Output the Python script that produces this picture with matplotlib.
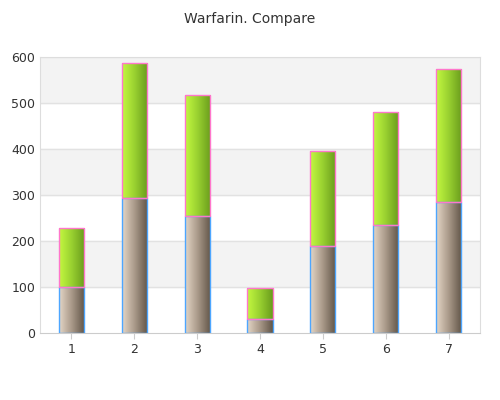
import matplotlib
matplotlib.use("Agg")
import matplotlib.pyplot as plt
import numpy as np
from matplotlib.colors import LinearSegmentedColormap

categories = ["1", "2", "3", "4", "5", "6", "7"]
bottom_vals = [100, 293, 255, 30, 190, 235, 285]
top_vals = [128, 294, 263, 67, 206, 245, 289]

fig = plt.figure(figsize=(5, 4), dpi=100)
ax = fig.add_axes([0.08, 0.1675, 0.88, 0.69])
x = np.arange(1, len(categories) + 1)
w = 0.4
ax.set_xlim(0.5, 7.5)
ax.set_ylim(0, 600)
for y0 in (100, 300, 500):
    ax.axhspan(y0, y0 + 100, color="#f3f3f3", zorder=0)
for y0 in range(100, 601, 100):
    ax.axhline(y0, color="#e2e2e2", lw=1, zorder=0.5)

cm_b = LinearSegmentedColormap.from_list("b", ["#e4d6c6", "#a89888", "#625648"])
cm_t = LinearSegmentedColormap.from_list("t", ["#c4f840", "#98d030", "#6a9c1c"])
grad = np.linspace(0, 1, 64).reshape(1, -1)

def gbar(xc, y0, h, cmap, ec):
    bar = ax.bar(xc, h, w, bottom=y0, color="none", edgecolor=ec, lw=1, zorder=3)[0]
    im = ax.imshow(grad, cmap=cmap, aspect="auto", extent=(xc - w/2, xc + w/2, y0, y0 + h), zorder=2)
    im.set_clip_path(bar)

for xi, b, t in zip(x, bottom_vals, top_vals):
    gbar(xi, 0, b, cm_b, "#4da6ff")
    gbar(xi, b, t, cm_t, "#ff77cc")

ax.set_xlim(0.5, 7.5)
ax.set_ylim(0, 600)
ax.set_xticks(x)
ax.set_xticklabels(categories)
ax.set_yticks(range(0, 601, 100))
ax.tick_params(labelsize=9, colors="#333333", length=4)
ax.tick_params(axis="y", length=0)
for s in ["top", "right", "left"]:
    ax.spines[s].set_color("#dddddd")
ax.spines["bottom"].set_color("#cccccc")
ax.tick_params(axis="x", color="#cccccc")
fig.suptitle("Warfarin. Compare", y=0.97, fontsize=10, color="#333333")
fig.savefig("out.png")
